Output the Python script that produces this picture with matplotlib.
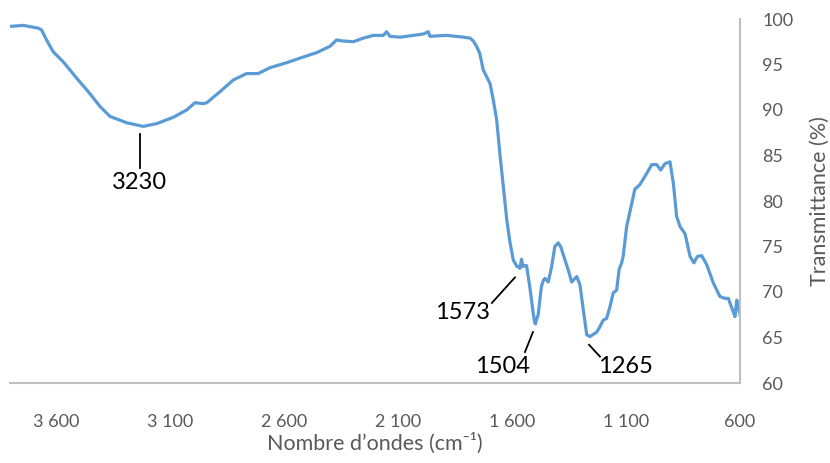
import matplotlib
matplotlib.use("Agg")
import matplotlib.pyplot as plt
from matplotlib.ticker import FuncFormatter, MultipleLocator

# spectre IR : nombre d'ondes (cm-1) et transmittance (%)
wavenumber = [3794, 3743, 3700, 3678, 3663, 3641, 3612, 3568, 3509, 3451,
              3407, 3363, 3290, 3217, 3158, 3085, 3027, 2990, 2954, 2938,
              2910, 2881, 2822, 2764, 2713, 2661, 2588, 2530, 2457, 2398,
              2369, 2347, 2296, 2252, 2208, 2164, 2150, 2135, 2091, 2033,
              1989, 1967, 1960, 1887, 1828, 1784, 1770, 1755, 1741, 1726,
              1704, 1696, 1682, 1667, 1653, 1638, 1623, 1609, 1594, 1578,
              1572, 1565, 1558, 1552, 1545, 1536, 1522, 1507, 1500, 1497,
              1492, 1485, 1471, 1462, 1455, 1441, 1426, 1412, 1397, 1385,
              1375, 1353, 1338, 1316, 1302, 1287, 1272, 1258, 1228, 1214,
              1200, 1185, 1170, 1156, 1141, 1130, 1119, 1112, 1097, 1075,
              1061, 1039, 1017, 987, 965, 948, 929, 907, 892, 878,
              863, 841, 819, 802, 787, 768, 746, 717, 688, 666,
              651, 644, 632, 622, 614, 607, 600]
transmittance = [99.2, 99.3, 99.1, 99.0, 98.8, 97.7, 96.4, 95.3, 93.5, 91.8,
                 90.4, 89.3, 88.6, 88.2, 88.5, 89.2, 90.0, 90.8, 90.7, 90.8,
                 91.4, 92.0, 93.3, 94.0, 94.0, 94.65, 95.2, 95.7, 96.3, 97.0,
                 97.7, 97.6, 97.5, 97.9, 98.2, 98.2, 98.6, 98.1, 98.0, 98.2,
                 98.35, 98.6, 98.1, 98.2, 98.05, 97.9, 97.6, 97.0, 96.2, 94.4,
                 93.3, 92.9, 91.1, 88.9, 85.2, 81.6, 78.0, 75.5, 73.5, 72.8,
                 72.8, 72.6, 73.6, 72.8, 72.9, 72.9, 70.6, 67.7, 66.6, 66.5,
                 67.0, 67.5, 70.6, 71.3, 71.5, 71.1, 72.8, 75.0, 75.4, 74.9,
                 74.1, 72.4, 71.1, 71.7, 70.8, 68.0, 65.3, 65.1, 65.6, 66.2,
                 66.9, 67.1, 68.4, 69.9, 70.2, 72.5, 73.2, 74.0, 77.2, 79.7,
                 81.3, 81.8, 82.7, 84.0, 84.0, 83.4, 84.1, 84.3, 81.9, 78.3,
                 77.2, 76.4, 73.9, 73.2, 73.9, 74.0, 73.0, 71.0, 69.5, 69.3,
                 69.3, 68.8, 68.0, 67.3, 69.1, 68.4, 67.5]

# bandes repérées
peak_labels = ["3230", "1573", "1504", "1265"]

# trait de rappel (x1, y1, x2, y2) et position du texte
leaders = [(3232, 87.4, 3232, 83.6),
           (1587, 71.6, 1688, 68.8),
           (1508, 65.6, 1543, 63.4),
           (1262, 64.2, 1214, 62.9)]
text_pos = [(3232, 82.0), (1815, 67.8), (1640, 61.8), (1104, 61.8)]

plt.rcParams['font.family'] = ['Lato', 'DejaVu Sans']

fig = plt.figure(figsize=(8.3, 4.63), dpi=100)
ax = fig.add_axes([10.3 / 830, 1 - 383 / 463, (740 - 10.3) / 830, (383 - 19) / 463])

ax.plot(wavenumber, transmittance, color="#5B9BD5", linewidth=2.3, solid_joinstyle='round')

for (x1, y1, x2, y2), (tx, ty), lab in zip(leaders, text_pos, peak_labels):
    ax.plot([x1, x2], [y1, y2], color="black", linewidth=1.3)
    ax.text(tx, ty, lab, ha="center", va="center", fontsize=17, color="black")

ax.set_xlim(3800, 600)
ax.set_ylim(60, 100)
ax.set_xticks([3600, 3100, 2600, 2100, 1600, 1100, 600])
ax.yaxis.set_major_locator(MultipleLocator(5))
ax.xaxis.set_major_formatter(FuncFormatter(lambda v, p: f"{int(v):,}".replace(",", " ")))

ax.yaxis.tick_right()
ax.yaxis.set_label_position("right")
for side in ["top", "left"]:
    ax.spines[side].set_visible(False)
for side in ["bottom", "right"]:
    ax.spines[side].set_color("#BFBFBF")
    ax.spines[side].set_linewidth(1.5)

ax.tick_params(axis="both", length=0, labelsize=13, colors="#595959")
ax.tick_params(axis="x", pad=22)
ax.tick_params(axis="y", pad=16)

ax.set_xlabel("Nombre d’ondes (cm⁻¹)", fontsize=15.5, color="#595959", labelpad=2)
ax.set_ylabel("Transmittance (%)", fontsize=15.5, color="#595959", labelpad=12)

fig.savefig("out.png", dpi=100)
